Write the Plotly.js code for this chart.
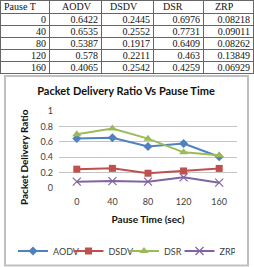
<!DOCTYPE html>
<html>
<head>
<meta charset="utf-8">
<script src="https://cdn.plot.ly/plotly-3.0.1.min.js"></script>
<style>
  html, body { margin: 0; padding: 0; background: #fff; }
  #wrap { position: relative; width: 254px; height: 267px; overflow: hidden; }
  #chart { position: absolute; left: 0; top: 0; width: 254px; height: 267px; }
  #tbl { position: absolute; left: 0; top: 0; border-collapse: collapse; table-layout: fixed;
         width: 253px; font-family: "Liberation Serif", serif; font-size: 10px; color: #111;
         background: #fff; }
  #tbl td, #tbl th { border: 1px solid #666; padding: 0 3px; line-height: 10px; height: 11px;
                     overflow: hidden; white-space: nowrap; font-weight: normal; }
  #tbl th { height: 12px; text-align: left; }
  #tbl td { text-align: right; }
</style>
</head>
<body>
<div id="wrap">
  <div id="chart"></div>
  <table id="tbl"></table>
</div>
<script>
// ---- data ----
const headers = ['Pause T', 'AODV', 'DSDV', 'DSR', 'ZRP'];
const pauseTimes = [0, 40, 80, 120, 160];
const aodv = [0.6422, 0.6535, 0.5387, 0.578, 0.4065];
const dsdv = [0.2445, 0.2552, 0.1917, 0.2211, 0.2542];
const dsr  = [0.6976, 0.7731, 0.6409, 0.463, 0.4259];
const zrp  = [0.08218, 0.09011, 0.08262, 0.13849, 0.06929];
const seriesNames = ['AODV', 'DSDV', 'DSR', 'ZRP'];
const chartTitle = 'Packet Delivery Ratio Vs Pause Time';
const xTitle = 'Pause Time (sec)';
const yTitle = 'Packet Delivery Ratio';
const yTicks = [0, 0.2, 0.4, 0.6, 0.8, 1];

// ---- table (built from the arrays) ----
const colWidths = [49, 52, 52, 50, 50];
const headerPad = [3, 12, 8, 9, 11];
const tbl = document.getElementById('tbl');
const cg = document.createElement('colgroup');
colWidths.forEach(w => { const c = document.createElement('col'); c.style.width = w + 'px'; cg.appendChild(c); });
tbl.appendChild(cg);
const hr = document.createElement('tr');
headers.forEach((h, j) => { const th = document.createElement('th'); th.textContent = h; th.style.paddingLeft = headerPad[j] + 'px'; hr.appendChild(th); });
tbl.appendChild(hr);
const cols = [pauseTimes, aodv, dsdv, dsr, zrp];
pauseTimes.forEach((_, i) => {
  const tr = document.createElement('tr');
  cols.forEach(col => { const td = document.createElement('td'); td.textContent = String(col[i]); tr.appendChild(td); });
  tbl.appendChild(tr);
});

// ---- layout helpers (pixel -> paper) ----
const W = 254, H = 267;
const px = x => x / W;
const py = y => 1 - y / H;

const colors = ['#4F81BD', '#C0504D', '#9BBB59', '#8064A2'];
const symbols = ['diamond', 'square', 'triangle-up', 'x-thin-open'];
const sizes = [7, 7, 8, 8];
const xCats = pauseTimes.map(String);
const allSeries = [aodv, dsdv, dsr, zrp];

const lineTraces = allSeries.map((vals, i) => ({
  type: 'scatter',
  mode: 'lines+markers',
  name: seriesNames[i],
  x: xCats,
  y: vals,
  xaxis: 'x',
  yaxis: 'y',
  line: { color: colors[i], width: 2 },
  marker: {
    symbol: symbols[i],
    size: sizes[i],
    color: colors[i],
    line: { color: colors[i], width: i === 3 ? 1.2 : 0 }
  }
}));

const font = 'Lato, "Open Sans", sans-serif';

const layout = {
  width: W, height: H,
  margin: { l: 0, r: 0, t: 0, b: 0 },
  paper_bgcolor: '#fff',
  plot_bgcolor: 'rgba(0,0,0,0)',
  showlegend: true,
  title: {
    text: '<b>' + chartTitle + '</b>',
    font: { family: font, size: 11, color: '#111' },
    x: px(126), xanchor: 'center', xref: 'paper',
    y: py(91), yanchor: 'middle', yref: 'paper'
  },
  xaxis: {
    type: 'category',
    domain: [px(59), px(237)],
    range: [-0.5, 4.5],
    showgrid: false, zeroline: false, showline: false, ticks: '',
    ticklabelstandoff: 7,
    tickfont: { family: font, size: 9, color: '#404040' },
    title: { text: '<b>' + xTitle + '</b>', font: { family: font, size: 10, color: '#111' }, standoff: 9 },
    fixedrange: true
  },
  yaxis: {
    domain: [py(188), py(111)],
    range: [0, 1],
    tickvals: yTicks,
    showgrid: false, zeroline: false, showline: false, ticks: '',
    ticklabelstandoff: 5,
    tickfont: { family: font, size: 9, color: '#404040' },
    fixedrange: true
  },
  yaxis2: {
    overlaying: 'y',
    domain: [py(188), py(111)],
    range: [0, 1],
    tickvals: yTicks.slice(1),
    showgrid: true, gridcolor: '#c4c4c4', gridwidth: 1,
    zeroline: false, showline: false, ticks: '', showticklabels: false,
    fixedrange: true
  },
  legend: {
    orientation: 'h',
    x: px(13), xanchor: 'left',
    y: py(251), yanchor: 'middle',
    entrywidth: 10.5, entrywidthmode: 'pixels',
    itemwidth: 30,
    tracegroupgap: 0,
    font: { family: font, size: 9, color: '#404040' },
    bgcolor: 'rgba(0,0,0,0)'
  },
  annotations: [{
    text: '<b>' + yTitle + '</b>',
    textangle: -90,
    xref: 'paper', yref: 'paper',
    x: px(24), y: py(157),
    xanchor: 'center', yanchor: 'middle',
    showarrow: false,
    font: { family: font, size: 10, color: '#111' }
  }],
  shapes: [{
    type: 'rect', xref: 'paper', yref: 'paper',
    x0: px(5), x1: px(248), y0: py(265.5), y1: py(76),
    line: { color: '#c0c0c0', width: 2 },
    layer: 'below'
  }]
};

// empty trace that activates the grid-only overlay axis
const gridTrace = {
  type: 'scatter', x: [], y: [], xaxis: 'x', yaxis: 'y2',
  showlegend: false, hoverinfo: 'skip'
};

Plotly.newPlot('chart', [gridTrace].concat(lineTraces), layout, { staticPlot: true, displayModeBar: false });
</script>
</body>
</html>
